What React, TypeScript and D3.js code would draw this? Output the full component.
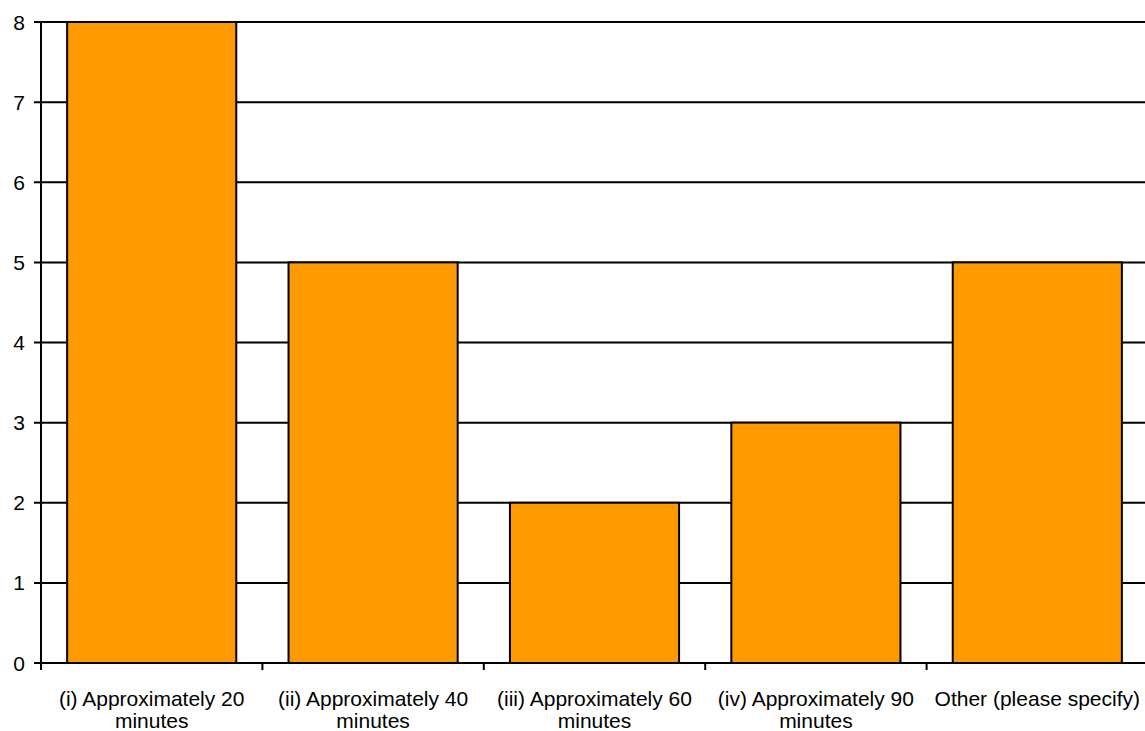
import React from "react";
import * as d3 from "d3";

const categories: string[][] = [
  ["(i) Approximately 20", "minutes"],
  ["(ii) Approximately 40", "minutes"],
  ["(iii) Approximately 60", "minutes"],
  ["(iv) Approximately 90", "minutes"],
  ["Other (please specify)"],
];
const values: number[] = [8, 5, 2, 3, 5];
const yTicks: number[] = [0, 1, 2, 3, 4, 5, 6, 7, 8];

const W = 1145;
const H = 731;
const left = 41;
const right = 1148;
const top = 22;
const bottom = 663;

export default function App() {
  const x = d3
    .scaleBand<number>()
    .domain(values.map((_, i) => i))
    .range([left, right])
    .paddingInner(0.236)
    .paddingOuter(0.118);
  const band = (right - left) / values.length;
  const y = d3.scaleLinear().domain([0, 8]).range([bottom, top]);
  const font = "'Liberation Sans', Arial, sans-serif";

  return (
    <svg
      width={W}
      height={H}
      style={{ position: "absolute", left: 0, top: 0, background: "#fff" }}
    >
      {yTicks.map((t) => (
        <g key={t}>
          <line x1={34} x2={W} y1={y(t)} y2={y(t)} stroke="#000" strokeWidth={2} />
          <text
            x={19}
            y={y(t)}
            dy="0.36em"
            textAnchor="middle"
            fontFamily={font}
            fontSize={21}
            fill="#000"
          >
            {t}
          </text>
        </g>
      ))}
      {values.map((v, i) => (
        <rect
          key={i}
          x={x(i)!}
          y={y(v)}
          width={x.bandwidth()}
          height={y(0) - y(v)}
          fill="#FF9900"
          stroke="#000"
          strokeWidth={2}
        />
      ))}
      <line x1={left} x2={left} y1={top} y2={bottom} stroke="#000" strokeWidth={2} />
      <line x1={34} x2={W} y1={bottom} y2={bottom} stroke="#000" strokeWidth={2} />
      {d3.range(values.length + 1).map((i) => (
        <line
          key={i}
          x1={left + i * band}
          x2={left + i * band}
          y1={bottom}
          y2={bottom + 7}
          stroke="#000"
          strokeWidth={2}
        />
      ))}
      {categories.map((lines, i) => (
        <text
          key={i}
          x={x(i)! + x.bandwidth() / 2}
          y={706}
          textAnchor="middle"
          fontFamily={font}
          fontSize={21}
          fill="#000"
        >
          {lines.map((l, j) => (
            <tspan key={j} x={x(i)! + x.bandwidth() / 2} dy={j === 0 ? 0 : 21.5}>
              {l}
            </tspan>
          ))}
        </text>
      ))}
    </svg>
  );
}
